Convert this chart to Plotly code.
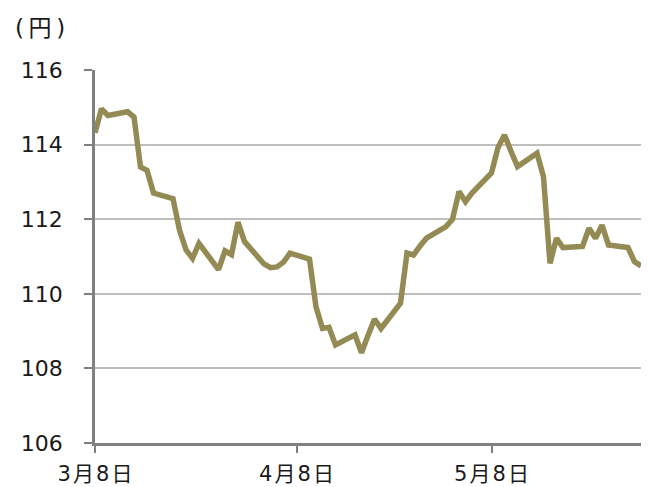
import plotly.graph_objects as go

dates = [
    "2017-03-08", "2017-03-09", "2017-03-10", "2017-03-13", "2017-03-14", "2017-03-15",
    "2017-03-16", "2017-03-17", "2017-03-20", "2017-03-21", "2017-03-22", "2017-03-23",
    "2017-03-24", "2017-03-27", "2017-03-28", "2017-03-29", "2017-03-30", "2017-03-31",
    "2017-04-03", "2017-04-04", "2017-04-05", "2017-04-06", "2017-04-07", "2017-04-10",
    "2017-04-11", "2017-04-12", "2017-04-13", "2017-04-14", "2017-04-17", "2017-04-18",
    "2017-04-19", "2017-04-20", "2017-04-21", "2017-04-24", "2017-04-25", "2017-04-26",
    "2017-04-27", "2017-04-28", "2017-05-01", "2017-05-02", "2017-05-03", "2017-05-04",
    "2017-05-05", "2017-05-08", "2017-05-09", "2017-05-10", "2017-05-11", "2017-05-12",
    "2017-05-15", "2017-05-16", "2017-05-17", "2017-05-18", "2017-05-19", "2017-05-22",
    "2017-05-23", "2017-05-24", "2017-05-25", "2017-05-26", "2017-05-29", "2017-05-30",
    "2017-05-31",
]
usdjpy = [
    114.32, 114.96, 114.78, 114.88, 114.74, 113.40,
    113.31, 112.70, 112.55, 111.71, 111.18, 110.95,
    111.35, 110.65, 111.15, 111.05, 111.92, 111.40,
    110.80, 110.70, 110.72, 110.85, 111.09, 110.93,
    109.65, 109.07, 109.10, 108.63, 108.90, 108.42,
    108.88, 109.32, 109.07, 109.75, 111.09, 111.04,
    111.28, 111.49, 111.80, 112.00, 112.74, 112.47,
    112.70, 113.24, 113.92, 114.26, 113.82, 113.41,
    113.77, 113.14, 110.82, 111.49, 111.24, 111.27,
    111.76, 111.49, 111.84, 111.31, 111.24, 110.86,
    110.75,
]
x_tick_vals = ["2017-03-08", "2017-04-08", "2017-05-08"]
x_tick_text = ["3\u200a月\u200a8\u200a日", "4\u200a月\u200a8\u200a日", "5\u200a月\u200a8\u200a日"]
y_tick_vals = [106, 108, 110, 112, 114, 116]
unit_label = "(\u2009円\u2009)"

font_family = "DejaVu Sans, Noto Sans CJK JP, sans-serif"
text_color = "#1a1a1a"

fig = go.Figure()
fig.add_trace(go.Scatter(
    x=dates, y=usdjpy, mode="lines",
    line=dict(color="#948A54", width=5.5),
    showlegend=False,
))

# the page body has an 8px default margin, so the figure is sized to fit the window
fig.update_layout(
    width=644, height=479,
    margin=dict(l=87, r=11, t=62, b=44),
    paper_bgcolor="white", plot_bgcolor="white",
    font=dict(family=font_family, color=text_color),
    xaxis=dict(
        type="date",
        range=["2017-03-08", "2017-05-31"],
        tickvals=x_tick_vals, ticktext=x_tick_text,
        tickfont=dict(size=21, family=font_family, color=text_color),
        showgrid=False, zeroline=False,
        showline=True, linecolor="#808080", linewidth=2.5,
        ticks="outside", ticklen=7, tickwidth=2, tickcolor="#808080",
        ticklabelstandoff=3,
        automargin=False,
    ),
    yaxis=dict(
        range=[106, 116],
        tickvals=y_tick_vals,
        tickfont=dict(size=22, family=font_family, color=text_color),
        showgrid=True, gridcolor="#BFBFBF", gridwidth=1.5,
        zeroline=False,
        showline=True, linecolor="#808080", linewidth=2.5,
        ticks="outside", ticklen=8, tickwidth=2, tickcolor="#808080",
        ticklabelstandoff=17,
        automargin=False,
    ),
    annotations=[dict(
        text=unit_label, xref="paper", yref="paper",
        x=0, y=1, xshift=-82, yshift=27, xanchor="left", yanchor="bottom",
        showarrow=False,
        font=dict(size=23, family=font_family, color=text_color),
    )],
)

fig.write_html("out.html")
